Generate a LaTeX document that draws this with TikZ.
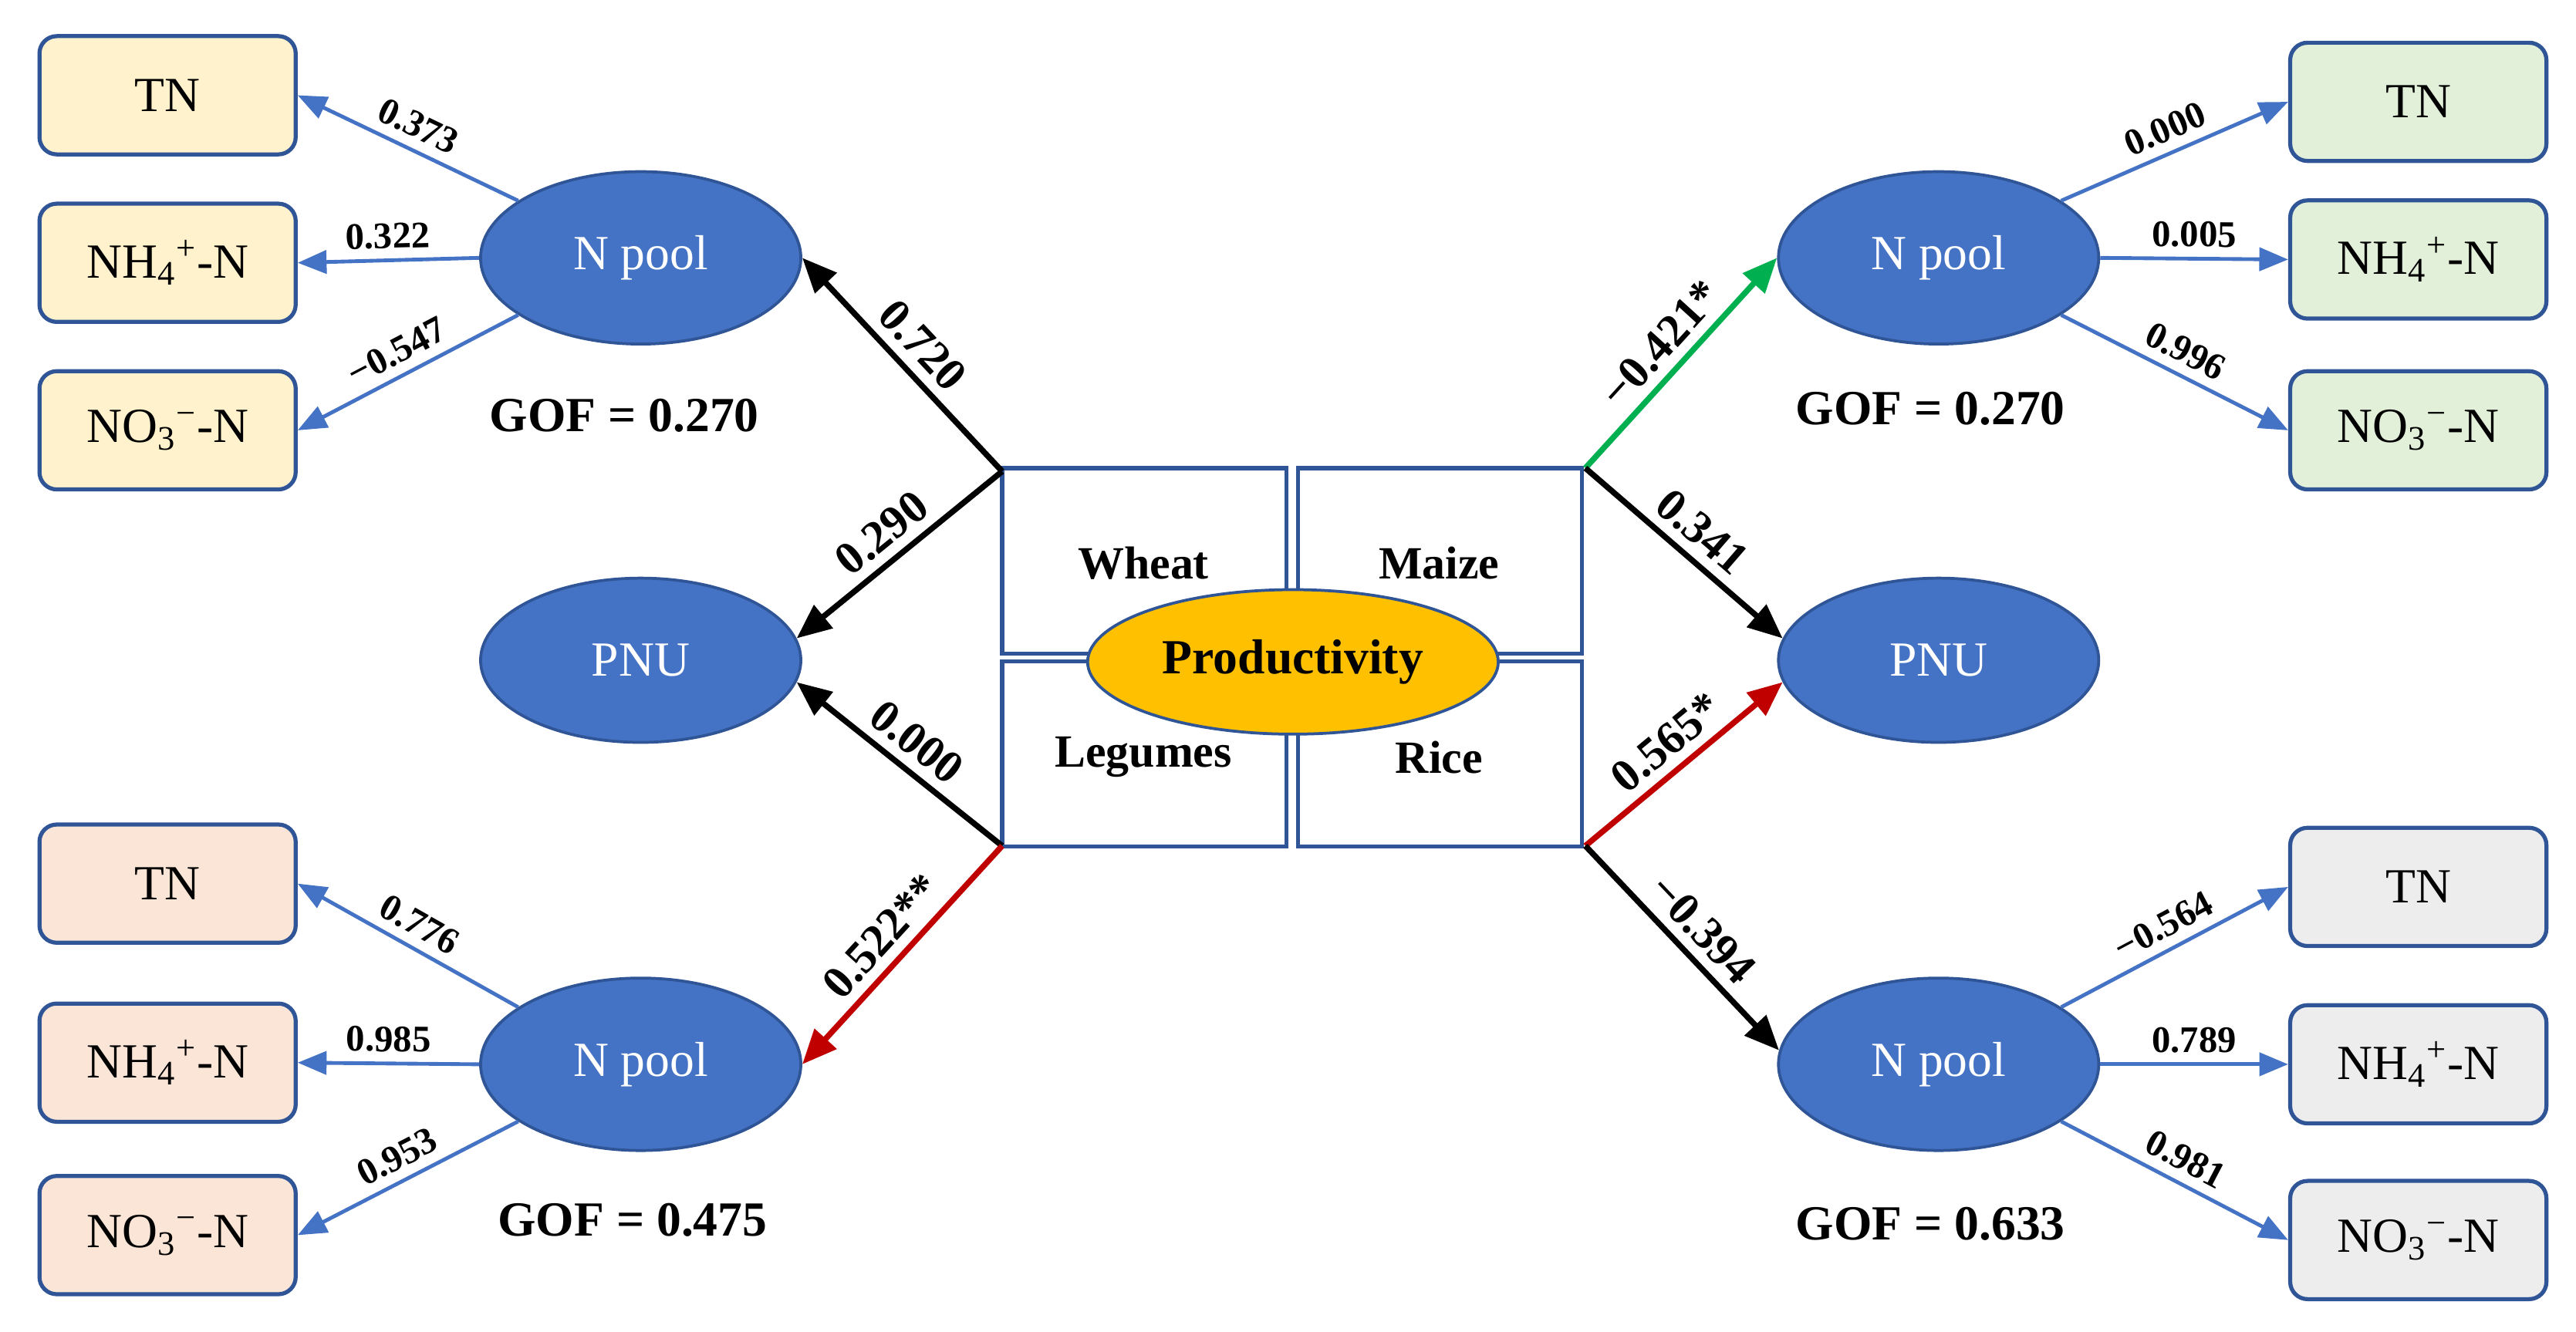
\documentclass[tikz,border=0pt]{standalone}
\usepackage{fontspec}
\setmainfont{Liberation Serif}
\usetikzlibrary{shapes.geometric,arrows.meta}
\definecolor{bdr}{HTML}{2F5597}
\definecolor{ell}{HTML}{4472C4}
\definecolor{yel}{HTML}{FFF2CC}
\definecolor{pnk}{HTML}{FBE5D6}
\definecolor{grn}{HTML}{E2F0D9}
\definecolor{gry}{HTML}{EDEDED}
\definecolor{gold}{HTML}{FFC000}
\definecolor{darkred}{HTML}{C00000}
\definecolor{arrgreen}{HTML}{00B050}
\tikzset{
 box/.style={draw=bdr,line width=1.4pt,rounded corners=6pt,minimum width=3.12cm,minimum height=1.44cm,font=\fontsize{17}{20}\selectfont},
 ell/.style={ellipse,draw=bdr,fill=ell,line width=1pt,minimum width=3.9cm,minimum height=2.1cm,text=white,font=\fontsize{17}{20}\selectfont},
 sq/.style={draw=bdr,line width=1.4pt,minimum width=3.46cm,minimum height=2.26cm},
 barr/.style={-{Triangle[length=10pt,width=8pt]},draw=ell,line width=1.3pt},
 karr/.style={-{Triangle[length=12pt,width=10pt]},line width=2pt},
 bl/.style={font=\bfseries\fontsize{13}{15}\selectfont,sloped,above},
 kl/.style={font=\bfseries\fontsize{16}{18}\selectfont,sloped,above},
 gof/.style={font=\bfseries\fontsize{17}{20}\selectfont}
}
\begin{document}
\begin{tikzpicture}[x=0.02cm,y=-0.02cm]
\useasboundingbox (0,0) rectangle (1568,811);
% center
\node[sq] (w) at (696.5,341.5) {};
\node[sq] (m) at (876.5,341.5) {};
\node[sq] (l) at (696.5,459) {};
\node[sq] (r) at (876.5,459) {};
\node[font=\bfseries\fontsize{16}{18}\selectfont] at (696,343) {Wheat};
\node[font=\bfseries\fontsize{16}{18}\selectfont] at (876,343) {Maize};
\node[font=\bfseries\fontsize{16}{18}\selectfont] at (696,461) {Legumes};
\node[font=\bfseries\fontsize{16}{18}\selectfont] at (876,461) {Rice};
\node[ellipse,draw=bdr,fill=gold,line width=1pt,minimum width=5cm,minimum height=1.76cm,font=\bfseries\fontsize{17}{20}\selectfont] (p) at (787,403) {Productivity};
\coordinate (cTL) at (610,287);
\coordinate (cBL) at (610,515);
\coordinate (cTR) at (965,285);
\coordinate (cBR) at (965,515);
% ellipses
\node[ell] (n1) at (390,157) {N pool};
\node[ell,minimum height=2cm] (pl) at (390,402) {PNU};
\node[ell] (n2) at (390,648) {N pool};
\node[ell] (n3) at (1180,157) {N pool};
\node[ell,minimum height=2cm] (pr) at (1180,402) {PNU};
\node[ell] (n4) at (1180,648) {N pool};
\node[gof] at (380,253) {GOF = 0.270};
\node[gof] at (385,743) {GOF = 0.475};
\node[gof] at (1175,249) {GOF = 0.270};
\node[gof] at (1175,745) {GOF = 0.633};
% boxes
\node[box,fill=yel] (a1) at (102,58) {TN};
\node[box,fill=yel] (a2) at (102,160) {NH\textsubscript{4}\textsuperscript{+}-N};
\node[box,fill=yel] (a3) at (102,262) {NO\textsubscript{3}\textsuperscript{−}-N};
\node[box,fill=pnk] (b1) at (102,538) {TN};
\node[box,fill=pnk] (b2) at (102,647) {NH\textsubscript{4}\textsuperscript{+}-N};
\node[box,fill=pnk] (b3) at (102,752) {NO\textsubscript{3}\textsuperscript{−}-N};
\node[box,fill=grn] (c1) at (1472,62) {TN};
\node[box,fill=grn] (c2) at (1472,158) {NH\textsubscript{4}\textsuperscript{+}-N};
\node[box,fill=grn] (c3) at (1472,262) {NO\textsubscript{3}\textsuperscript{−}-N};
\node[box,fill=gry] (d1) at (1472,540) {TN};
\node[box,fill=gry] (d2) at (1472,648) {NH\textsubscript{4}\textsuperscript{+}-N};
\node[box,fill=gry] (d3) at (1472,755) {NO\textsubscript{3}\textsuperscript{−}-N};
% blue arrows
\draw[barr] (n1.155) -- (a1.east) node[bl,midway] {0.373};
\draw[barr] (n1.west) -- (a2.east) node[bl,midway] {0.322};
\draw[barr] (n1.205) -- (a3.east) node[bl,midway] {−0.547};
\draw[barr] (n2.155) -- (b1.east) node[bl,midway] {0.776};
\draw[barr] (n2.west) -- (b2.east) node[bl,midway] {0.985};
\draw[barr] (n2.205) -- (b3.east) node[bl,midway] {0.953};
\draw[barr] (n3.25) -- (c1.west) node[bl,midway] {0.000};
\draw[barr] (n3.east) -- (c2.west) node[bl,midway] {0.005};
\draw[barr] (n3.-25) -- (c3.west) node[bl,midway] {0.996};
\draw[barr] (n4.25) -- (d1.west) node[bl,midway] {−0.564};
\draw[barr] (n4.east) -- (d2.west) node[bl,midway] {0.789};
\draw[barr] (n4.-25) -- (d3.west) node[bl,midway] {0.981};
% main arrows
\draw[karr] (cTL) -- (n1.east) node[kl,midway] {0.720};
\draw[karr] (cTL) -- (pl.8) node[kl,midway] {0.290};
\draw[karr] (cBL) -- (pl.-8) node[kl,midway] {0.000};
\draw[karr,darkred] (cBL) -- (n2.east) node[kl,midway,text=black] {0.522**};
\draw[karr,arrgreen] (cTR) -- (n3.west) node[kl,midway,text=black] {−0.421*};
\draw[karr] (cTR) -- (pr.172) node[kl,midway] {0.341};
\draw[karr,darkred] (cBR) -- (pr.188) node[kl,midway,text=black] {0.565*};
\draw[karr] (cBR) -- (n4.175) node[kl,midway] {−0.394};
\end{tikzpicture}
\end{document}
